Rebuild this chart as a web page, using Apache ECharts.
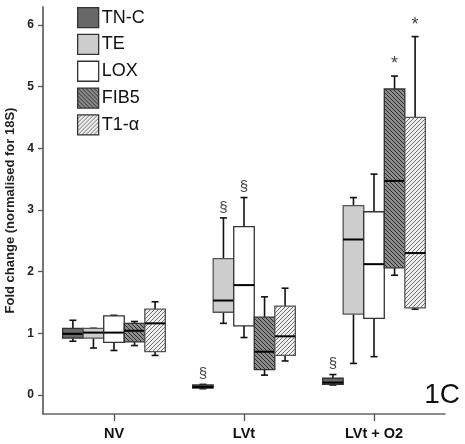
<!DOCTYPE html>
<html>
<head>
<meta charset="utf-8">
<script src="https://cdn.jsdelivr.net/npm/echarts@6/dist/echarts.min.js"></script>
<style>
  html, body { margin: 0; padding: 0; background: #fff; }
  #chart { width: 465px; height: 444px; }
</style>
</head>
<body>
<div id="chart"></div>
<script>
// 分组与刻度
const groups = ['NV', 'LVt', 'LVt + O2']
const yTicks = [0, 1, 2, 3, 4, 5, 6]
const xTicks = [0, 1, 2]

// 每组: [下须, Q1, 中位数, Q3, 上须]
const tncStats = [[0.87, 0.92, 0.99, 1.08, 1.21], [0.10, 0.11, 0.13, 0.16, 0.17], [0.16, 0.17, 0.20, 0.27, 0.33]]
const teStats = [[0.76, 0.92, 1.01, 1.08, 1.08], [1.16, 1.34, 1.53, 2.21, 2.87], [0.51, 1.31, 2.52, 3.07, 3.20]]
const loxStats = [[0.72, 0.85, 1.01, 1.28, 1.29], [0.93, 1.12, 1.78, 2.73, 3.20], [0.62, 1.24, 2.12, 2.97, 3.58]]
const fib5Stats = [[0.80, 0.86, 1.04, 1.16, 1.19], [0.32, 0.41, 0.70, 1.26, 1.59], [1.94, 2.06, 3.47, 4.96, 5.17]]
const t1Stats = [[0.64, 0.70, 1.16, 1.39, 1.51], [0.55, 0.64, 0.95, 1.44, 1.73], [1.39, 1.41, 2.30, 4.50, 5.81]]

// 显著性标记
const tncMarks = ['', '§', '§']
const teMarks = ['', '§', '']
const loxMarks = ['', '§', '']
const fib5Marks = ['', '', '*']
const t1Marks = ['', '', '*']

// 斜线填充
const hatch = (bg, fg, dir) => {
  const s = 4
  const c = document.createElement('canvas')
  c.width = c.height = s
  const g = c.getContext('2d')
  g.fillStyle = bg
  g.fillRect(0, 0, s, s)
  g.strokeStyle = fg
  g.lineWidth = 1
  g.beginPath()
  for (const o of [-s, 0, s]) {
    if (dir > 0) { g.moveTo(o, s); g.lineTo(o + s, 0) } else { g.moveTo(o, 0); g.lineTo(o + s, s) }
  }
  g.stroke()
  return { image: c, repeat: 'repeat' }
}

const boxW = 0.158
const seriesDefs = [
  { name: 'TN-C', stats: tncStats, marks: tncMarks, fill: '#686868', stroke: '#333' },
  { name: 'TE', stats: teStats, marks: teMarks, fill: '#cdcdcd', stroke: '#555' },
  { name: 'LOX', stats: loxStats, marks: loxMarks, fill: '#ffffff', stroke: '#333' },
  { name: 'FIB5', stats: fib5Stats, marks: fib5Marks, fill: hatch('#8c8c8c', '#2e2e2e', -1), stroke: '#333' },
  { name: 'T1-α', stats: t1Stats, marks: t1Marks, fill: hatch('#f0f0f0', '#6e6e6e', 1), stroke: '#555' }
]

const makeRender = (idx, def) => (params, api) => {
  const g = api.value(0)
  const off = (idx - 2) * boxW
  const x = g + off
  const cx = api.coord([x, 0])[0]
  const w = api.size([boxW, 0])[0]
  const cap = 3.5
  const y = i => api.coord([x, api.value(i)])[1]
  const [yLo, yQ1, yMed, yQ3, yHi] = [y(1), y(2), y(3), y(4), y(5)]
  const lineStyle = { stroke: '#111', lineWidth: 1.6 }
  const children = [
    { type: 'line', shape: { x1: cx, y1: yHi, x2: cx, y2: yQ3 }, style: lineStyle },
    { type: 'line', shape: { x1: cx, y1: yQ1, x2: cx, y2: yLo }, style: lineStyle },
    { type: 'line', shape: { x1: cx - cap, y1: yHi, x2: cx + cap, y2: yHi }, style: lineStyle },
    { type: 'line', shape: { x1: cx - cap, y1: yLo, x2: cx + cap, y2: yLo }, style: lineStyle },
    { type: 'rect', shape: { x: cx - w / 2, y: yQ3, width: w, height: Math.max(yQ1 - yQ3, 1) },
      style: { fill: def.fill, stroke: def.stroke, lineWidth: 1.3 } },
    { type: 'line', shape: { x1: cx - w / 2, y1: yMed, x2: cx + w / 2, y2: yMed }, style: { stroke: '#000', lineWidth: 2 } }
  ]
  const mark = def.marks[g]
  if (mark) {
    children.push({
      type: 'text',
      style: {
        text: mark, x: cx, y: yHi - 3, align: 'center', verticalAlign: 'bottom',
        fill: '#444', fontSize: mark === '*' ? 18 : 15, fontFamily: 'Liberation Sans'
      }
    })
  }
  return { type: 'group', children }
}

const chart = echarts.init(document.getElementById('chart'))

const option = {
  animation: false,
  grid: { left: 43, right: 20, top: 7, bottom: 30, outerBoundsMode: 'none' },
  legend: {
    orient: 'vertical',
    left: 77,
    top: 7,
    padding: 0,
    itemWidth: 21,
    itemHeight: 20,
    itemGap: 5.5,
    selectedMode: false,
    textStyle: { fontSize: 18, color: '#111', fontFamily: 'Liberation Sans', padding: [0, 0, 0, -2] },
    data: seriesDefs.map(d => ({
      name: d.name,
      icon: 'rect',
      itemStyle: { color: d.fill, borderColor: '#333', borderWidth: 1.3 }
    }))
  },
  xAxis: {
    type: 'value',
    min: -0.546,
    max: 2.546,
    axisLine: { show: true, onZero: false, lineStyle: { color: '#666', width: 1.5 } },
    axisTick: { show: true, customValues: xTicks, length: 7, lineStyle: { color: '#555', width: 1.3 } },
    axisLabel: {
      customValues: xTicks,
      formatter: v => groups[v],
      color: '#111', fontWeight: 'bold', fontSize: 14.5, fontFamily: 'Liberation Sans', margin: 12
    },
    splitLine: { show: false }
  },
  yAxis: {
    type: 'value',
    min: -0.31,
    max: 6.29,
    name: 'Fold change (normalised for 18S)',
    nameLocation: 'middle',
    nameGap: 24,
    nameTextStyle: { color: '#222', fontWeight: 'bold', fontSize: 13, fontFamily: 'Liberation Sans' },
    axisLine: { show: true, onZero: false, lineStyle: { color: '#777', width: 2 } },
    axisTick: { show: true, customValues: yTicks, length: 5, lineStyle: { color: '#555', width: 1.3 } },
    axisLabel: {
      customValues: yTicks,
      color: '#222', fontWeight: 'bold', fontSize: 12, fontFamily: 'Liberation Sans', margin: 9
    },
    splitLine: { show: false }
  },
  graphic: [{
    type: 'text',
    right: 5,
    top: 381,
    style: { text: '1C', fontSize: 28, fill: '#111', fontFamily: 'Liberation Sans' }
  }],
  series: seriesDefs.map((d, i) => ({
    name: d.name,
    type: 'custom',
    itemStyle: { color: d.fill },
    encode: { x: 0, y: [1, 2, 3, 4, 5] },
    data: d.stats.map((s, g) => [g, ...s]),
    renderItem: makeRender(i, d)
  }))
}

chart.setOption(option)
</script>
</body>
</html>
